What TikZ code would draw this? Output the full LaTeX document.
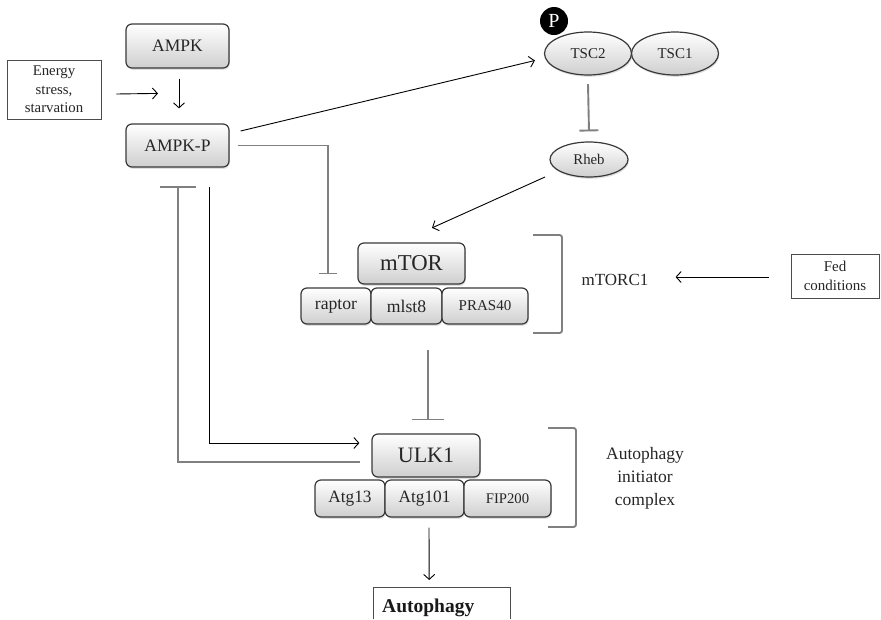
\documentclass[tikz,border=0pt]{standalone}
\usepackage{fontspec}
\setmainfont{Liberation Serif}
\usetikzlibrary{arrows.meta,shapes.geometric,shadows,calc}

\tikzset{
  pbox/.style={draw=gray!45!black, line width=1.2pt, rounded corners=6pt,
    top color=white, bottom color=gray!38, inner sep=0pt, text=black!85,
    drop shadow={opacity=0.25, shadow xshift=0.8pt, shadow yshift=-1.8pt}},
  pell/.style={ellipse, draw=gray!45!black, line width=1.2pt,
    top color=white, bottom color=gray!38, inner sep=0pt, text=black!85,
    drop shadow={opacity=0.25, shadow xshift=0.8pt, shadow yshift=-1.8pt}},
  txtbox/.style={draw=black!70, line width=0.8pt, inner sep=0pt, align=center, text=black!85},
  plain/.style={inner sep=0pt, align=center, text=black!85},
  act/.style={draw=black, line width=0.9pt, -{Straight Barb[length=5pt,width=11pt]}},
  inh/.style={draw=black!50, line width=1.9pt},
  brk/.style={draw=black!50, line width=1.9pt, rounded corners=2.5pt},
  txtline/.style={draw=black!70, line width=0.8pt}
}

\begin{document}
\begin{tikzpicture}[x=1pt,y=-1pt]
\useasboundingbox (0,0) rectangle (881,619);

% ---- AMPK column
\node[pbox, minimum width=103pt, minimum height=44pt, font=\fontsize{17.5}{20}\selectfont] (ampk) at (177.5,46) {AMPK};
\node[pbox, minimum width=103pt, minimum height=43pt, font=\fontsize{17.5}{20}\selectfont] (ampkp) at (177.5,145.5) {AMPK-P};
\node[txtbox, minimum width=94pt, minimum height=59pt, font=\fontsize{14.8}{18.5}\selectfont] (energy) at (54,89.5) {Energy\\stress,\\starvation};

% ---- TSC complex
\node[pell, minimum width=87pt, minimum height=43pt, font=\fontsize{15}{18}\selectfont] (tsc1) at (675,53.5) {TSC1};
\node[pell, minimum width=87pt, minimum height=43pt, font=\fontsize{15}{18}\selectfont] (tsc2) at (588,53.5) {TSC2};
\node[circle, fill=black, minimum size=28pt, inner sep=0pt, text=white, font=\fontsize{20}{20}\selectfont] (pho) at (554,21) {P};
\node[pell, minimum width=78pt, minimum height=35pt, font=\fontsize{14.8}{18}\selectfont] (rheb) at (589,159.5) {Rheb};

% ---- mTORC1
\node[pbox, minimum width=107pt, minimum height=41pt, font=\fontsize{22.7}{26}\selectfont] (mtor) at (411.5,263.5) {mTOR};
\node[pbox, minimum width=70pt, minimum height=36pt, font=\fontsize{17.7}{20}\selectfont] (raptor) at (336,306) {raptor};
\node[pbox, minimum width=71pt, minimum height=36pt, font=\fontsize{17.7}{20}\selectfont] (mlst8) at (406.5,306) {mlst8};
\node[pbox, minimum width=86pt, minimum height=36pt, font=\fontsize{15}{18}\selectfont] (pras) at (485,306) {PRAS40};
\draw[brk] (533,235) -- (562,235) -- (562,333) -- (533,333);
\node[plain, font=\fontsize{17}{20}\selectfont] (mtorc1) at (615,280) {mTORC1};
\node[txtbox, minimum width=88pt, minimum height=44pt, font=\fontsize{15}{19}\selectfont] (fed) at (835,276) {Fed\\conditions};

% ---- ULK1 complex
\node[pbox, minimum width=108pt, minimum height=43pt, font=\fontsize{22}{26}\selectfont] (ulk1) at (426,455.5) {ULK1};
\node[pbox, minimum width=70pt, minimum height=37pt, font=\fontsize{17.3}{20}\selectfont] (atg13) at (350,498.5) {Atg13};
\node[pbox, minimum width=79pt, minimum height=37pt, font=\fontsize{17.3}{20}\selectfont] (atg101) at (424.5,498.5) {Atg101};
\node[pbox, minimum width=87pt, minimum height=37pt, font=\fontsize{14.7}{18}\selectfont] (fip) at (507.5,498.5) {FIP200};
\draw[brk] (548,428) -- (576,428) -- (576,527) -- (548,527);
\node[plain, font=\fontsize{17.5}{23}\selectfont] (aic) at (645,478) {Autophagy\\initiator\\complex};

% ---- Autophagy output
\node[anchor=north west, minimum width=137pt, minimum height=32pt, inner sep=0pt] (autobox) at (373,587) {};
\node[anchor=base west, inner sep=0pt, text=black!90, font=\bfseries\fontsize{19.5}{22}\selectfont] (autotxt) at ($(autobox.north west)+(9,25)$) {Autophagy};
\draw[txtline] (autobox.south west) -- (autobox.north west) -- (autobox.north east) -- (autobox.south east);

% ---- connectors
\draw[act] ([shift={(15,4.5)}]energy.east) -- ([shift={(-19.5,-30)}]ampkp.north);
\draw[act] ([shift={(1.5,10)}]ampk.south) -- ([shift={(1.5,-15)}]ampkp.north);
\draw[act] ([shift={(11,-14.5)}]ampkp.east) -- ([shift={(-9,7)}]tsc2.west);
\draw[inh, -{Bar[width=19pt]}] ([yshift=-8.5pt]tsc2.south) -- ([yshift=10pt]rheb.north);
\draw[act] ([shift={(-44,17.5)}]rheb.center) -- ([shift={(20.5,-14.5)}]mtor.north);
\draw[inh, -{Bar[width=18pt]}] ([xshift=8pt]ampkp.east) -| ([shift={(-8,-13)}]raptor.north);
\draw[inh, -{Bar[width=32pt]}] ($(ulk1.north |- mlst8.south)+(2,25)$) -- ([shift={(2,-13)}]ulk1.north);
\draw[act] ([shift={(31.5,19)}]ampkp.south) |- ([shift={(-12,-12.5)}]ulk1.west);
\draw[inh, -{Bar[width=36pt]}] ([shift={(-11,6.5)}]ulk1.west) -| ([shift={(0.5,18)}]ampkp.south);
\draw[act] ([shift={(4.5,10)}]atg101.south) -- ([shift={(-12.5,-7)}]autobox.north);
\draw[act] ([shift={(-22,1)}]fed.west) -- ([shift={(27,-3)}]mtorc1.east);
\end{tikzpicture}
\end{document}
